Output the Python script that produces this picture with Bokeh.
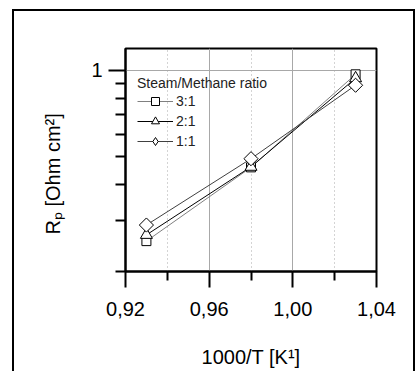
from bokeh.plotting import figure
from bokeh.models import FixedTicker, CustomJSTickFormatter, Legend, LegendItem
from bokeh.embed import file_html
from bokeh.resources import INLINE
import math

# ---- data ----
inv_T = [0.93, 0.98, 1.03]
rp_3_1 = [0.255, 0.460, 0.968]
rp_2_1 = [0.268, 0.462, 0.938]
rp_1_1 = [0.290, 0.493, 0.887]
series_labels = ["3:1", "2:1", "1:1"]
legend_title = "Steam/Methane ratio"
x_major = [0.92, 0.96, 1.00, 1.04]
x_minor = [0.94, 0.98, 1.02]
y_major = [1]
y_minor = [0.2, 0.3, 0.4, 0.5, 0.6, 0.7, 0.8, 0.9]
x_label = "1000/T [K\u00b9]"
y_label = "R\u209a [Ohm cm\u00b2]" + "\u00a0" * 5

FONT = "Liberation Sans"

p = figure(frame_width=251, frame_height=223,
           x_range=(0.92, 1.04), y_range=(0.2, 1.19), y_axis_type="log",
           output_backend="svg", toolbar_location=None,
           min_border_left=111, min_border_top=37, min_border_right=37, min_border_bottom=100)
p.styles = {"margin-left": "12px", "margin-top": "9px",
            "border-top": "2px solid black", "border-left": "2px solid black",
            "border-right": "2px solid black"}

p.background_fill_color = "white"
p.border_fill_color = "white"
p.outline_line_color = "black"
p.outline_line_width = 2

# axes
xa = p.xaxis[0]
ya = p.yaxis[0]
xa.ticker = FixedTicker(ticks=x_major, minor_ticks=x_minor)
ya.ticker = FixedTicker(ticks=y_major, minor_ticks=y_minor)
xa.formatter = CustomJSTickFormatter(code="return tick.toFixed(2).replace('.', ',');")
ya.formatter = CustomJSTickFormatter(code="return String(Math.round(tick));")
for ax in (xa, ya):
    ax.axis_line_color = "black"
    ax.axis_line_width = 2
    ax.major_tick_line_color = "black"
    ax.major_tick_line_width = 2
    ax.minor_tick_line_color = "black"
    ax.minor_tick_line_width = 2
    ax.major_tick_in = 0
    ax.minor_tick_in = 0
    ax.major_label_text_font = FONT
    ax.major_label_text_font_size = "20px"
    ax.major_label_text_color = "black"
    ax.axis_label_text_font = FONT
    ax.axis_label_text_font_size = "20px"
    ax.axis_label_text_font_style = "normal"
    ax.axis_label_text_color = "black"
xa.major_tick_out = 16
xa.minor_tick_out = 9
ya.major_tick_out = 17
ya.minor_tick_out = 10
xa.major_label_standoff = 14
ya.major_label_standoff = 6
xa.axis_label = x_label
ya.axis_label = y_label
xa.axis_label_standoff = 27
ya.axis_label_standoff = 24

# grids
p.xgrid.grid_line_color = "#a8a8a8"
p.xgrid.grid_line_width = 1
p.xgrid.minor_grid_line_color = "#a8a8a8"
p.xgrid.minor_grid_line_dash = "1 3"
p.ygrid.grid_line_color = "#a8a8a8"
p.ygrid.grid_line_width = 1

# series
l1 = p.line(inv_T, rp_3_1, line_color="#808080", line_width=1)
l2 = p.line(inv_T, rp_2_1, line_color="black", line_width=1)
l3 = p.line(inv_T, rp_1_1, line_color="#404040", line_width=1)
s1 = p.scatter(inv_T, rp_3_1, marker="square", size=9, fill_color="white", line_color="black", line_width=1)
s2 = p.scatter(inv_T, rp_2_1, marker="triangle", size=12, fill_color="white", line_color="black", line_width=1)
# diamond glyph used for the legend symbol, hidden under the data diamonds
s3_leg = p.scatter(inv_T, rp_1_1, marker="diamond", size=12, fill_color="white", line_color="black", line_width=1)
s3 = p.scatter(inv_T, rp_1_1, marker="square", angle=math.pi / 4, size=10, fill_color="white", line_color="black", line_width=1)

legend = Legend(items=[LegendItem(label=series_labels[0], renderers=[l1, s1]),
                       LegendItem(label=series_labels[1], renderers=[l2, s2]),
                       LegendItem(label=series_labels[2], renderers=[l3, s3_leg])],
                location=(12, 124))
legend.title = legend_title
legend.title_text_font = FONT
legend.title_text_font_size = "14px"
legend.title_text_font_style = "normal"
legend.title_text_color = "#222222"
legend.title_standoff = -7
legend.label_text_font = FONT
legend.label_text_font_size = "14px"
legend.label_text_color = "#222222"
legend.glyph_width = 36
legend.glyph_height = 20
legend.label_height = 18
legend.label_standoff = 3
legend.spacing = -3
legend.padding = 5
legend.margin = 0
legend.border_line_color = None
legend.background_fill_alpha = 0
p.add_layout(legend)
# keep title position: shift legend by the standoff change so the items stay put
legend.location = (12, 120)

open("out.html", "w").write(file_html(p, INLINE))
